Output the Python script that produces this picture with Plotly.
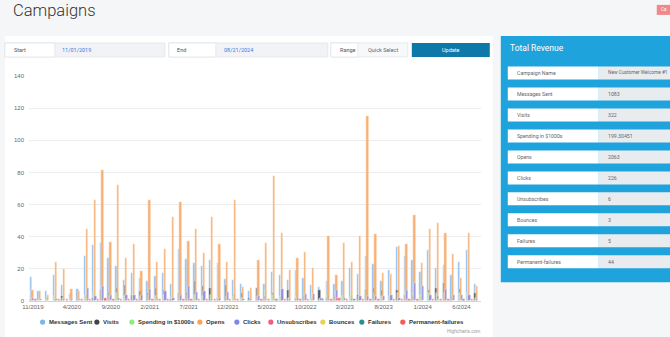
import plotly.graph_objects as go

# ---------------- data ----------------
months = []
m, y = 11, 2019
for _ in range(58):
    months.append(f"{m}/{y}")
    m += 1
    if m > 12:
        m, y = 1, y + 1

messages_sent = [15, 6, 6.5, 16, 10, 4.5, 7.5, 28, 35, 36, 27, 22, 13, 17.5, 14.5, 12.5, 15.5, 17.5, 10.5, 32.5,
                 26, 23.5, 21.5, 25.5, 23.5, 13.5, 13, 10.5, 6.5, 8, 10.5, 18, 16, 13.3, 19.4, 14.4, 10.2, 8.5, 12.5, 10.4,
                 12.5, 20.4, 16.5, 28.3, 23.3, 12.5, 19.4, 33.3, 28.3, 25.4, 18.3, 31.5, 20.4, 22.3, 16.4, 24.4, 31.5, 10.4]
visits = [1, 0, 2, 1, 3, 0, 1, 4, 2, 7, 5, 8, 10, 4, 6.5, 5, 8, 7, 1, 5,
          5, 12.7, 9.4, 8, 2, 10, 4, 5, 2, 8, 3, 5, 3, 7, 2, 3, 2, 6.7, 2, 2.5,
          2, 2, 4, 7, 8, 7, 3, 7, 4, 4, 3, 6.7, 8, 11.3, 3.8, 7.5, 3.5, 5]
spending = [2, 1, 1, 3, 2, 1, 1, 4, 5, 6, 4, 5, 3, 4, 3, 4, 3, 4, 3, 5,
            4, 4, 3, 4, 3, 3, 3, 2, 1, 3, 6.7, 4, 3, 2, 3, 3, 2, 1, 3.8, 2,
            3, 3, 3, 6, 5, 3, 3, 5, 5, 5, 4, 5, 5, 5, 4, 5, 5, 2]
opens = [7, 6, 4, 24, 20, 7.3, 6.3, 45, 63, 81.5, 37, 72, 26.5, 35.5, 18.5, 63, 24.5, 32.5, 52.5, 61.5,
         37.5, 44.5, 30, 52.5, 35.5, 24, 63, 9, 8, 25.4, 36.3, 77.5, 42.3, 19.4, 26.5, 30.2, 20.4, 1, 40.4, 16.3,
         36.3, 24.4, 40.4, 115, 41.5, 17.5, 16.5, 34.4, 35.6, 53.3, 23.5, 45, 48.3, 42.5, 29.4, 14.4, 42.5, 9.4]
clicks = [2, 1, 0, 1, 1, 1, 1, 8, 3, 9.5, 4, 2, 4, 4, 4, 7.3, 1, 6.5, 2, 4,
          9.6, 5.4, 6.5, 1, 2, 5.4, 1, 1, 1, 3, 1, 1, 7.3, 1, 2, 4.2, 4.4, 2, 1, 7,
          2, 1, 3, 3, 3, 3, 4, 2, 7, 11.4, 9.4, 3.8, 3.3, 7.3, 4, 3.8, 3.8, 1]
unsubscribes = [0] * 58
unsubscribes[7] = 1; unsubscribes[39] = 2; unsubscribes[20] = 1; unsubscribes[48] = 1; unsubscribes[12] = 1
bounces = [0] * 58
bounces[30] = 1; bounces[41] = 1; bounces[52] = 1
failures = [0] * 58
failures[31] = 1; failures[37] = 1; failures[41] = 1; failures[9] = 1; failures[55] = 1
perm_failures = [1, 0, 0, 1, 1, 0, 1, 1, 1, 2, 1, 1, 1, 1, 0, 1, 1, 1, 0, 1,
                 1, 1, 1, 1, 0, 1, 1, 0, 0, 1, 1, 1, 1, 0, 1, 1, 0, 0, 1, 2,
                 1, 0, 1, 1, 1, 0, 1, 1, 1, 1, 0, 1, 1, 1, 0, 1, 1, 0]

series_names = ["Messages Sent", "Visits", "Spending in $1000s", "Opens", "Clicks",
                "Unsubscribes", "Bounces", "Failures", "Permanent-failures"]
series_values = [messages_sent, visits, spending, opens, clicks,
                 unsubscribes, bounces, failures, perm_failures]
series_colors = ["#7cb5ec", "#434348", "#90ed7d", "#f7a35c", "#8085e9",
                 "#f15c80", "#e4d354", "#2b908f", "#f45b5b"]

x_ticks = months[::5]

panel_labels = ["Campaign Name", "Messages Sent", "Visits", "Spending in $1000s", "Opens",
                "Clicks", "Unsubscribes", "Bounces", "Failures", "Permanent-failures"]
panel_values = ["New Customer Welcome #1", "1083", "322", "199.30451", "2063",
                "226", "6", "3", "5", "44"]

# ---------------- geometry helpers ----------------
W, H = 670, 337
L, R, T, B = 29.1, 481.2, 76, 300.7
unit = (R - L) / 58.0


def xp(px):
    return (px - L) / (R - L)


def yp(py):
    return (B - py) / (B - T)


fig = go.Figure()

bar_w_px = 2.3
for i, (name, vals, col) in enumerate(zip(series_names, series_values, series_colors)):
    center = -2.2 + 0.6 * i
    fig.add_trace(go.Bar(
        x=months, y=vals, name=name,
        marker=dict(color=col, line=dict(color="white", width=0.5), opacity=0.85),
        width=bar_w_px / unit,
        offset=(center - bar_w_px / 2) / unit,
        showlegend=False,
    ))

shapes = []
ann = []


def rect(x0, y0, x1, y1, color, line=None, layer="below", lw=0.8):
    shapes.append(dict(type="rect", xref="paper", yref="paper",
                       x0=xp(x0), x1=xp(x1), y0=yp(y1), y1=yp(y0),
                       fillcolor=color, layer=layer,
                       line=dict(color=line or color, width=lw if line else 0)))


def text(x, y, s, size=6, color="#555", anchor="left", family="Roboto, Liberation Sans", weight=None):
    f = dict(size=size, color=color, family=family)
    if weight:
        f["weight"] = weight
    ann.append(dict(xref="paper", yref="paper", x=xp(x), y=yp(y), text=s, showarrow=False,
                    xanchor=anchor, yanchor="middle", font=f))


# white card
rect(5, 36, 493, 340, "white")
# input row
rect(5, 43, 165, 57, "#f1f3f6", line="#e1e4e8")
rect(5, 43, 55, 57, "white", line="#e1e4e8")
text(12, 50, "Start", 5.5, "#555")
text(60, 50, "11/01/2019", 5.5, "#3b7ddd")
rect(169, 43, 328, 57, "#f1f3f6", line="#e1e4e8")
rect(169, 43, 216, 57, "white", line="#e1e4e8")
text(175, 50, "End", 5.5, "#555")
text(222, 50, "08/21/2024", 5.5, "#3b7ddd")
rect(331, 43, 408, 57, "#f7f8fa", line="#e1e4e8")
rect(331, 43, 358, 57, "white", line="#e1e4e8")
text(338, 50, "Range", 5.5, "#555")
text(366, 50, "Quick Select", 5.5, "#666")
rect(412, 43, 490, 57, "#0e78a8")
text(451, 50, "Update", 5.5, "white", anchor="center")

# title and red button
text(11, 11, "Campaigns", 16.5, "#333", family="Roboto", weight=300)
rect(657, 5, 672, 15, "#f08a8a")
text(659, 10, "Ca", 4.5, "white")

# right panel
rect(501, 36, 672, 282, "#1fa3dc")
text(508, 48, "Total Revenue", 8.5, "white")
for i, (lab, val) in enumerate(zip(panel_labels, panel_values)):
    cy = 73 + 20.95 * i
    rect(599, cy - 6.5, 672, cy + 6.5, "#e9ecef")
    rect(508, cy - 6.5, 599, cy + 6.5, "white")
    text(515, cy, lab, 5.2, "#666")
    text(606, cy, val, 5.2 if i else 4.8, "#666")

# legend (manual, Highcharts style)
leg_x = [42.7, 97, 132, 200, 237, 271, 323, 362, 403]
for cx, name, col in zip(leg_x, series_names, series_colors):
    shapes.append(dict(type="circle", xref="paper", yref="paper", xsizemode="pixel", ysizemode="pixel",
                       xanchor=xp(cx), yanchor=yp(321.7), x0=-2.6, x1=2.6, y0=-2.6, y1=2.6,
                       fillcolor=col, line=dict(width=0), layer="above"))
    text(cx + 4.5, 321.7, name, 6, "#333", family="Liberation Sans", weight="bold")

text(482, 331, "Highcharts.com", 4.8, "#999", anchor="right", family="Liberation Sans")

fig.update_layout(
    width=W, height=H,
    margin=dict(l=L, r=W - R, t=T, b=H - B, pad=0),
    paper_bgcolor="#f5f6f8", plot_bgcolor="white",
    barmode="overlay", bargap=0,
    shapes=shapes, annotations=ann,
    showlegend=False,
    font=dict(family="Liberation Sans"),
    xaxis=dict(type="category", range=[-0.5, 57.5], tickmode="array", tickvals=x_ticks,
               tickfont=dict(size=6, color="#666"), showgrid=False, showline=True,
               linecolor="#ccd6eb", linewidth=1, ticks="", fixedrange=True),
    yaxis=dict(range=[0, 140], dtick=20, tick0=0, gridcolor="#ececec", gridwidth=1,
               tickfont=dict(size=6, color="#666"), zeroline=False, showline=False,
               ticklabelstandoff=4, fixedrange=True),
)

fig.write_html("out.html", config={"displayModeBar": False})
